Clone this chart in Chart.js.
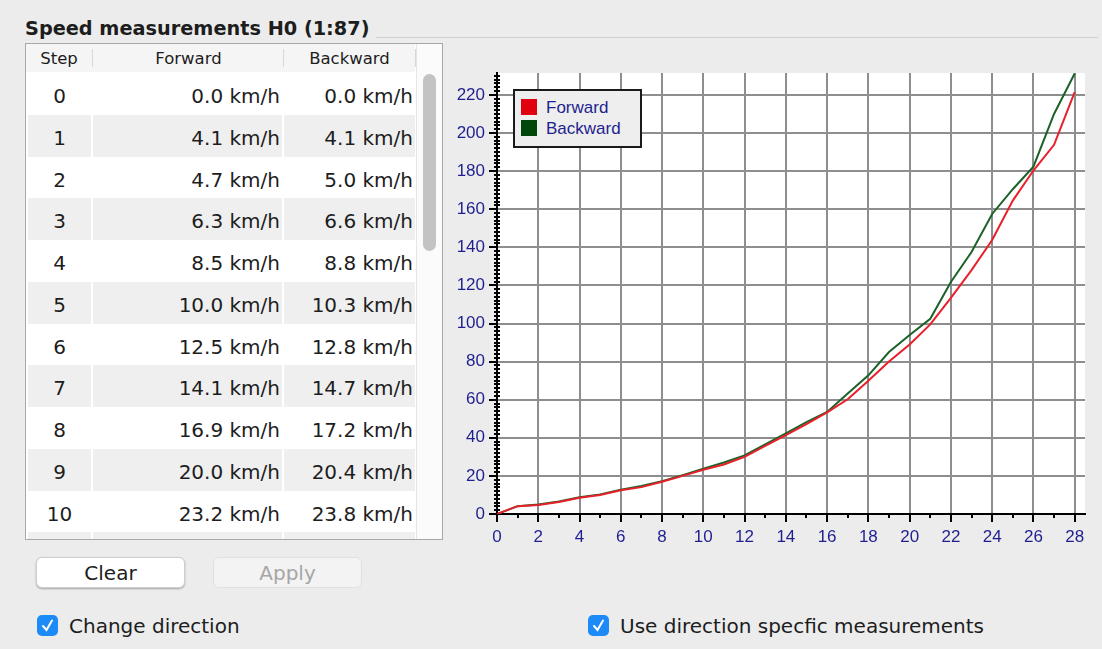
<!DOCTYPE html>
<html>
<head>
<meta charset="utf-8">
<title>Speed measurements H0 (1:87)</title>
<script src="https://cdn.jsdelivr.net/npm/chart.js@4.4.0/dist/chart.umd.min.js"></script>
<style>
  body { margin: 0; width: 1102px; height: 649px; background: #ececec; position: relative; overflow: hidden;
         font-family: "DejaVu Sans", sans-serif; color: #1d1d1d; }
  .abs { position: absolute; }
  .title { left: 25px; top: 17px; font-weight: bold; font-size: 19.3px; white-space: nowrap; }
  .groupLine { left: 376px; width: 722px; top: 37px; height: 1px; background: #d0d0d0; }
  .tableBox { left: 25px; top: 43px; width: 416px; height: 495px; border: 1px solid #a8a8a8; background: #fff; overflow: hidden; }
  .head { left: 0; top: 0; width: 389px; height: 28px; background: #f5f5f5; font-size: 16.5px; }
  .head div { position: absolute; top: 0; height: 28px; line-height: 30px; text-align: center; }
  .head .sep { width: 1px; top: 5px; height: 18px; background: #d8d8d8; }
  .rows { left: 0; top: 29px; width: 389px; }
  .row { position: relative; height: 41.75px; font-size: 20px; }
  .row div { position: absolute; top: 0; height: 41.75px; box-sizing: border-box; padding-top: 5px; line-height: 36.75px; white-space: nowrap; }
  .row.odd div { background: #efefef; }
  .c0 { left: 2px; width: 63px; text-align: center; }
  .c1 { left: 67px; width: 189px; text-align: right; padding-right: 2px; }
  .c2 { left: 258px; width: 131px; text-align: right; padding-right: 2px; }
  .track { left: 390px; top: 0; width: 26px; height: 495px; background: #fbfbfb; border-left: 1px solid #e6e6e6; }
  .thumb { left: 397px; top: 30px; width: 13px; height: 177px; background: #c3c3c3; border-radius: 7px; }
  .btn { height: 31px; width: 149px; border-radius: 6px; font-size: 20px; text-align: center; line-height: 31px; box-sizing: border-box; }
  .clear { left: 36px; top: 557px; background: #fff; border: 1px solid #cfcfcf; box-shadow: 0 1px 2px rgba(0,0,0,0.3); }
  .apply { left: 213px; top: 557px; background: #f3f3f3; border: 1px solid #e0e0e0; color: #a6a6a6; }
  .cb { width: 21px; height: 21px; border-radius: 5px; background: #1d8bf7; }
  .cbText { font-size: 20px; line-height: 24px; white-space: nowrap; }
  canvas { position: absolute; left: 450px; top: 60px; }
  .legend { left: 513px; top: 89px; width: 129px; height: 59px; box-sizing: border-box; border: 2px solid #1a1a1a; background: #eeeeee; z-index: 2; }
  .legItem { position: absolute; left: 6px; height: 18px; font-family: "Liberation Sans", Arial, sans-serif; font-size: 17px; color: #1f1f8f; white-space: nowrap; }
  .legItem span.sw { position: absolute; left: 0; top: 0; width: 16px; height: 16px; }
  .legItem span.tx { position: absolute; left: 25px; top: -1px; line-height: 20px; }
</style>
</head>
<body>
<div class="abs title">Speed measurements H0 (1:87)</div>
<div class="abs groupLine"></div>

<div class="abs tableBox">
  <div class="abs head">
    <div style="left:0;width:66px;">Step</div>
    <div class="sep" style="left:66px;"></div>
    <div style="left:67px;width:191px;">Forward</div>
    <div class="sep" style="left:257px;"></div>
    <div style="left:258px;width:131px;">Backward</div>
    <div class="sep" style="left:389px;"></div>
  </div>
  <div class="abs rows" id="rows"></div>
  <div class="abs track"></div>
  <div class="abs thumb"></div>
</div>

<div class="abs btn clear">Clear</div>
<div class="abs btn apply">Apply</div>

<div class="abs cb" style="left:37px;top:615px;">
  <svg width="21" height="21"><path d="M6 11 L9.5 15 L15 5.5" stroke="#fff" stroke-width="2" fill="none" stroke-linecap="round"/></svg>
</div>
<div class="abs cbText" style="left:69px;top:614px;">Change direction</div>
<div class="abs cb" style="left:588px;top:615px;">
  <svg width="21" height="21"><path d="M6 11 L9.5 15 L15 5.5" stroke="#fff" stroke-width="2" fill="none" stroke-linecap="round"/></svg>
</div>
<div class="abs cbText" style="left:620px;top:614px;">Use direction specfic measurements</div>

<canvas id="speedChart" width="650" height="490"></canvas>
<div class="abs legend" id="legend"></div>

<script>
// speed steps and measured speeds (km/h)
const steps = [0, 1, 2, 3, 4, 5, 6, 7, 8, 9, 10, 11, 12, 13, 14, 15, 16, 17, 18, 19, 20, 21, 22, 23, 24, 25, 26, 27, 28];
const forward = [0.0, 4.1, 4.7, 6.3, 8.5, 10.0, 12.5, 14.1, 16.9, 20.0, 23.2, 26.0, 30.0, 35.8, 41.4, 47.2, 53.3,
                 60.2, 70.0, 80.0, 89.0, 99.5, 113.5, 128.0, 143.8, 164.5, 180.3, 193.8, 221.5];
const backward = [0.0, 4.1, 5.0, 6.6, 8.8, 10.3, 12.8, 14.7, 17.2, 20.4, 23.8, 27.0, 30.8, 36.5, 42.3, 48.2, 53.6,
                  63.3, 72.8, 85.0, 94.0, 102.5, 121.8, 137.5, 157.5, 170.5, 182.3, 210.0, 231.2];
const seriesNames = ['Forward', 'Backward'];
const lineColors = ['#e8202a', '#1b6128'];
const swatchColors = ['#e00010', '#00480a'];

// table rows
const rowsEl = document.getElementById('rows');
steps.forEach((s, i) => {
  const r = document.createElement('div');
  r.className = 'row' + (i % 2 ? ' odd' : '');
  r.innerHTML = '<div class="c0">' + s + '</div>' +
    '<div class="c1">' + forward[i].toFixed(1) + ' km/h</div>' +
    '<div class="c2">' + backward[i].toFixed(1) + ' km/h</div>';
  rowsEl.appendChild(r);
});

// legend box inside the plot
const legendEl = document.getElementById('legend');
seriesNames.forEach((name, i) => {
  const it = document.createElement('div');
  it.className = 'legItem';
  it.style.top = (8 + i * 21) + 'px';
  it.innerHTML = '<span class="sw" style="background:' + swatchColors[i] + '"></span><span class="tx">' + name + '</span>';
  legendEl.appendChild(it);
});

const plotBackground = {
  id: 'plotBackground',
  beforeDraw(chart) {
    const { ctx, chartArea: a } = chart;
    ctx.save();
    ctx.fillStyle = '#ffffff';
    ctx.fillRect(a.left, a.top, a.right - a.left, a.bottom - a.top);
    ctx.restore();
  }
};

// major/minor tick marks on both axes
const tickMarks = {
  id: 'tickMarks',
  afterDraw(chart) {
    const { ctx, scales: { x, y } } = chart;
    ctx.save();
    ctx.strokeStyle = '#000';
    ctx.lineWidth = 2;
    ctx.beginPath();
    x.ticks.forEach(t => {
      const px = Math.round(x.getPixelForValue(t.value));
      if (t.value % 2 === 0) {
        ctx.moveTo(px, x.top); ctx.lineTo(px, x.top + 8);
      } else {
        ctx.moveTo(px, x.top - 1); ctx.lineTo(px, x.top + 4);
      }
    });
    y.ticks.forEach(t => {
      const py = Math.round(y.getPixelForValue(t.value));
      if (t.value % 20 === 0) {
        ctx.moveTo(y.right - 8, py); ctx.lineTo(y.right, py);
      } else {
        ctx.moveTo(y.right - 3, py); ctx.lineTo(y.right + 3, py);
      }
    });
    ctx.stroke();
    ctx.restore();
  }
};

const tickFont = { family: 'Liberation Sans', size: 17 };

new Chart(document.getElementById('speedChart').getContext('2d'), {
  type: 'line',
  data: {
    labels: steps,
    datasets: [
      { label: seriesNames[0], data: forward, borderColor: lineColors[0], borderWidth: 2, pointRadius: 0, tension: 0 },
      { label: seriesNames[1], data: backward, borderColor: lineColors[1], borderWidth: 2, pointRadius: 0, tension: 0 }
    ]
  },
  options: {
    responsive: false,
    animation: false,
    layout: { padding: { top: 13, right: 15, left: 0, bottom: 0 } },
    plugins: { legend: { display: false }, tooltip: { enabled: false } },
    scales: {
      x: {
        type: 'linear',
        min: 0,
        max: 28.5,
        afterFit(scale) { scale.height = 36; scale.paddingLeft = 0; scale.paddingRight = 0; },
        border: { color: '#000', width: 2 },
        grid: {
          drawTicks: false,
          lineWidth: 2,
          color: c => (c.tick && c.tick.value % 2 === 0 ? '#8e8e8e' : 'rgba(0,0,0,0)')
        },
        ticks: {
          stepSize: 1,
          includeBounds: false,
          autoSkip: false,
          maxRotation: 0,
          minRotation: 0,
          padding: 13,
          color: '#1f1f8f',
          font: tickFont,
          callback: v => (v % 2 === 0 ? String(v) : '')
        }
      },
      y: {
        min: 0,
        max: 231.5,
        afterFit(scale) { scale.width = 47; scale.paddingTop = 0; scale.paddingBottom = 0; },
        border: { color: '#000', width: 2 },
        grid: {
          drawTicks: false,
          lineWidth: 2,
          color: c => (c.tick && c.tick.value % 20 === 0 ? '#8e8e8e' : 'rgba(0,0,0,0)')
        },
        ticks: {
          stepSize: 2,
          includeBounds: false,
          autoSkip: false,
          padding: 12,
          color: '#1f1f8f',
          font: tickFont,
          callback: v => (v % 20 === 0 ? String(v) : '')
        }
      }
    }
  },
  plugins: [plotBackground, tickMarks]
});
</script>
</body>
</html>
